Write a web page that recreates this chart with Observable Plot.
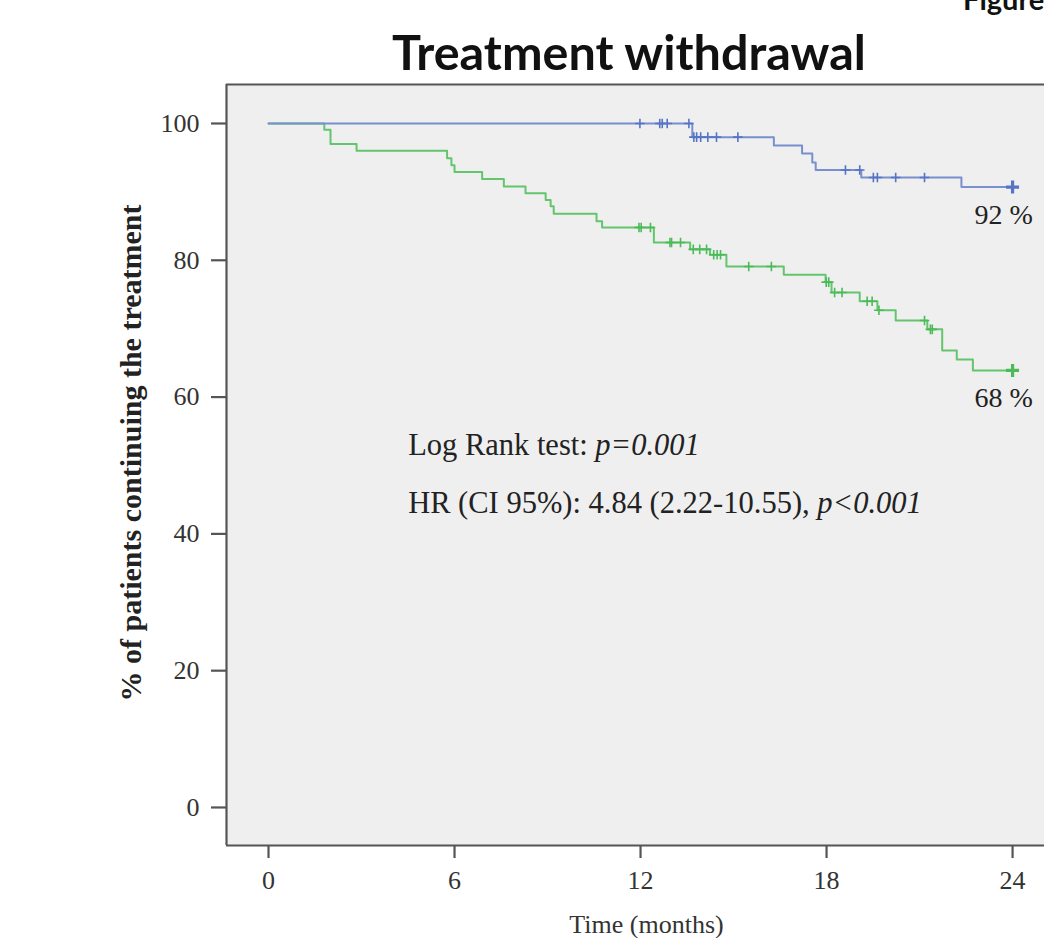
<!DOCTYPE html>
<html>
<head>
<meta charset="utf-8">
<script src="https://cdn.jsdelivr.net/npm/d3@7"></script>
<script src="https://cdn.jsdelivr.net/npm/@observablehq/plot@0.6"></script>
<style>
  html, body { margin: 0; padding: 0; background: #ffffff; }
  #wrap { position: relative; width: 1044px; height: 938px; overflow: hidden; }
  #fig { position: absolute; left: 963px; top: -19px; font: 700 29px Lato, "Open Sans", sans-serif; color: #111; }
  #title { height: 80px; width: 1044px; position: relative; }
  #title span { position: absolute; left: 629px; top: 27px; transform: translateX(-50%); white-space: nowrap;
    font: 700 48.5px Lato, "Open Sans", sans-serif; color: #111; line-height: 1; }
  #chart svg { display: block; }
</style>
</head>
<body>
<div id="wrap">
  <div id="fig">Figure</div>
  <div id="title"><span>Treatment withdrawal</span></div>
  <div id="chart"></div>
</div>
<script>
// Kaplan–Meier estimates: step times (months) and % still on treatment after each step
const blueTimes = [0, 13.67, 16.3, 17.21, 17.54, 17.65, 19.12, 22.35, 24];
const blueSurv  = [100, 98.0, 96.8, 95.6, 94.3, 93.2, 92.1, 90.7, 90.7];
const blueCensored = [11.98, 12.62, 12.7, 12.86, 13.56, 13.72, 13.81, 13.94, 14.17, 14.45, 15.14,
                      18.61, 19.07, 19.51, 19.64, 20.23, 21.16];

const greenTimes = [0, 1.8, 2.0, 2.84, 5.76, 5.9, 6.0, 6.89, 7.59, 8.29, 8.94, 9.1, 9.2, 10.58, 10.76,
                    12.43, 13.6, 14.24, 14.77, 16.62, 17.97, 18.16, 19.07, 19.64, 20.23, 21.25, 21.73,
                    22.2, 22.72, 24];
const greenSurv  = [100, 99.1, 97.0, 96.0, 94.9, 93.9, 92.9, 91.9, 90.8, 89.8, 88.8, 87.9, 86.8, 85.7, 84.8,
                    82.6, 81.6, 80.8, 79.1, 77.9, 76.8, 75.3, 74.0, 72.7, 71.2, 69.9, 66.8,
                    65.5, 63.9, 63.9];
const greenCensored = [11.95, 12.02, 12.32, 12.95, 13.0, 13.29, 13.7, 13.91, 14.13, 14.36, 14.47, 14.58,
                       15.49, 16.22, 17.99, 18.07, 18.26, 18.5, 19.31, 19.47, 19.69, 21.16, 21.35, 21.41];

// end-of-follow-up figures printed next to each curve
const endTime = 24;
const blueEndLabel = 92;
const greenEndLabel = 68;

const xTicks = [0, 6, 12, 18, 24];
const yTicks = [0, 20, 40, 60, 80, 100];
const xTitle = "Time (months)";
const yTitle = "% of patients continuing the treatment";
const statLines = [
  [["Log Rank test: ", false], ["p=0.001", true]],
  [["HR (CI 95%): 4.84 (2.22-10.55), ", false], ["p<0.001", true]]
];

const blue = {line: "#7990d0", mark: "#5574c6"};
const green = {line: "#63c56d", mark: "#4cba58"};

const toRows = (times, surv) => times.map((t, i) => ({t, s: surv[i]}));
const blueRows = toRows(blueTimes, blueSurv);
const greenRows = toRows(greenTimes, greenSurv);

// survival value in force at time t (censoring ticks sit on the curve)
function survAt(rows, t) {
  let s = rows[0].s;
  for (const r of rows) if (r.t <= t) s = r.s;
  return s;
}
const blueTicks = blueCensored.map(t => ({t, s: survAt(blueRows, t)}));
const greenTicks = greenCensored.map(t => ({t, s: survAt(greenRows, t)}));
const endRows = [
  {t: endTime, s: survAt(blueRows, endTime), label: blueEndLabel, c: blue.mark},
  {t: endTime, s: survAt(greenRows, endTime), label: greenEndLabel, c: green.mark}
];

// thin "+" used for censored observations
const crossSymbol = {
  draw(context, size) {
    const r = Math.sqrt(size / Math.PI);
    context.moveTo(-r, 0); context.lineTo(r, 0);
    context.moveTo(0, -r); context.lineTo(0, r);
  }
};

const xDomain = [-1.355, 25.03];
const yDomain = [-5.56, 105.7];
const serif = "'Liberation Serif', 'DejaVu Serif', serif";

const plot = Plot.plot({
  width: 1044,
  height: 858,
  marginTop: 4,
  marginBottom: 93,
  marginLeft: 226,
  marginRight: 0,
  style: {fontFamily: serif, background: "transparent", color: "#333"},
  x: {domain: xDomain},
  y: {domain: yDomain},
  marks: [
    Plot.frame({fill: "#efefef", stroke: "none"}),
    Plot.ruleX([xDomain[0]], {stroke: "#555", strokeWidth: 2.2}),
    Plot.ruleY(yDomain, {stroke: "#555", strokeWidth: 2.2}),
    Plot.axisX({ticks: xTicks, tickSize: 13, tickPadding: 12, stroke: "#555", strokeWidth: 2.2,
                fill: "#333", fontSize: 26, label: null}),
    Plot.axisY({ticks: yTicks, tickSize: 15, tickPadding: 12, stroke: "#555", strokeWidth: 2.2,
                fill: "#333", fontSize: 26, label: null}),
    Plot.text([xTitle], {frameAnchor: "bottom", dx: 11, dy: 79, lineAnchor: "middle",
                         fontSize: 26, fill: "#333"}),
    Plot.text([yTitle], {frameAnchor: "left", dx: -95, dy: -12, rotate: -90, textAnchor: "middle",
                         lineAnchor: "middle", fontSize: 30, fontWeight: "bold", fill: "#222"}),
    Plot.line(greenRows, {x: "t", y: "s", curve: "step-after", stroke: green.line, strokeWidth: 2}),
    Plot.line(blueRows, {x: "t", y: "s", curve: "step-after", stroke: blue.line, strokeWidth: 2}),
    Plot.dot(greenTicks, {x: "t", y: "s", symbol: crossSymbol, r: 4.8, fill: "none",
                          stroke: green.mark, strokeWidth: 1.6}),
    Plot.dot(blueTicks, {x: "t", y: "s", symbol: crossSymbol, r: 4.8, fill: "none",
                         stroke: blue.mark, strokeWidth: 1.6}),
    Plot.dot(endRows, {x: "t", y: "s", symbol: crossSymbol, r: 6.5, fill: "none",
                       stroke: "c", strokeWidth: 3.2}),
    Plot.text(endRows, {x: "t", y: "s", text: d => `${d.label} %`, dx: -9, dy: 28,
                        fontSize: 28, fill: "#222"})
  ]
});

// statistics block, with the p-values set in italics
const sx = plot.scale("x"), sy = plot.scale("y");
const statX = sx.apply(4.52);
const statY = [sy.apply(51.46), sy.apply(42.98)];
const svg = d3.select(plot);
statLines.forEach((parts, i) => {
  const t = svg.append("text")
    .attr("x", statX).attr("y", statY[i])
    .attr("text-anchor", "start")
    .attr("font-family", serif)
    .attr("font-size", 30.5).attr("fill", "#222");
  parts.forEach(([str, it]) => t.append("tspan").attr("font-style", it ? "italic" : null).text(str));
});

document.getElementById("chart").append(plot);
</script>
</body>
</html>
